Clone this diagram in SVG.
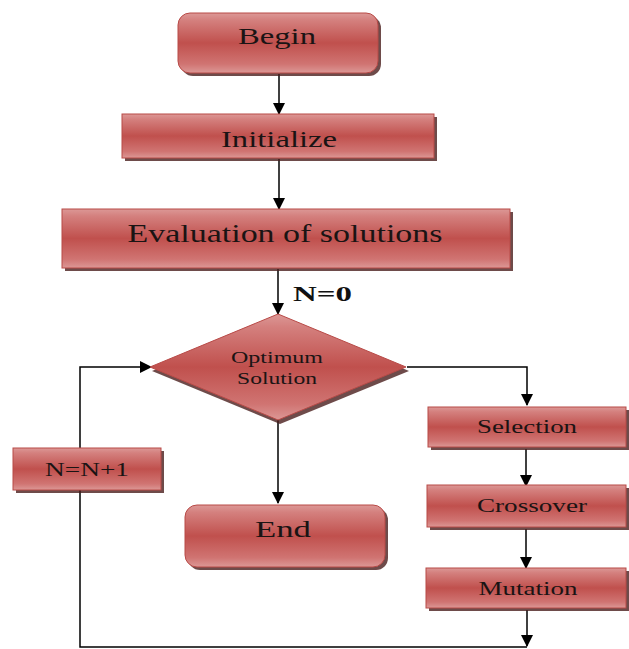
<svg xmlns="http://www.w3.org/2000/svg" width="629" height="649" viewBox="0 0 629 649">
<defs>
<linearGradient id="g" x1="0" y1="0" x2="0" y2="1">
<stop offset="0" stop-color="#dc9896"/>
<stop offset="0.12" stop-color="#d4807e"/>
<stop offset="0.5" stop-color="#c0504d"/>
<stop offset="0.85" stop-color="#d07472"/>
<stop offset="1" stop-color="#dc9896"/>
</linearGradient>
<marker id="ah" markerUnits="userSpaceOnUse" markerWidth="12" markerHeight="12" refX="11" refY="6" orient="auto" viewBox="0 0 12 12">
<path d="M0,0 L12,6 L0,12 z" fill="#000"/>
</marker>
<style>
.box{fill:url(#g);stroke:#b84a47;stroke-width:1}
.sh{fill:#4a1e1d;opacity:0.8}
.t{fill:#1a1414;text-anchor:middle}
.c{fill:none;stroke:#000;stroke-width:1.5}
</style>
</defs>

<g id="connectors">
<path class="c" d="M279,74 L279,114" marker-end="url(#ah)"/>
<path class="c" d="M279,159 L279,209" marker-end="url(#ah)"/>
<path class="c" d="M278,269 L278,314" marker-end="url(#ah)"/>
<path class="c" d="M278,420 L278,503" marker-end="url(#ah)"/>
<path class="c" d="M407,367 L527,367 L527,405" marker-end="url(#ah)"/>
<path class="c" d="M526,449 L526,486" marker-end="url(#ah)"/>
<path class="c" d="M526,529 L526,568" marker-end="url(#ah)"/>
<path class="c" d="M527,610 L527,646" marker-end="url(#ah)"/>
<path class="c" d="M527,647 L80,647 L80,367 L151,367" marker-end="url(#ah)"/>
<text x="293" y="301" font-family="'Liberation Serif', 'Times New Roman', serif" font-weight="bold" font-size="22" textLength="59" lengthAdjust="spacingAndGlyphs" fill="#111">N=0</text>
</g>

<g font-family="'Liberation Serif', 'Times New Roman', serif">
<g id="begin">
<rect class="sh" x="181" y="16" width="200" height="60" rx="12"/>
<rect class="box" x="178" y="13" width="200" height="60" rx="12"/>
<text class="t" x="277" y="44" font-size="24" textLength="78" lengthAdjust="spacingAndGlyphs">Begin</text>
</g>

<g id="initialize">
<rect class="sh" x="125" y="117" width="312" height="44"/>
<rect class="box" x="122" y="114" width="312" height="44"/>
<text class="t" x="279" y="147" font-size="24" textLength="116" lengthAdjust="spacingAndGlyphs">Initialize</text>
</g>

<g id="evaluation">
<rect class="sh" x="65" y="212" width="448" height="59"/>
<rect class="box" x="62" y="209" width="448" height="59"/>
<text class="t" x="285" y="242" font-size="25" textLength="315" lengthAdjust="spacingAndGlyphs">Evaluation of solutions</text>
</g>

<g id="optimum">
<polygon class="sh" points="280,317 409,371 280,424 152,371"/>
<polygon class="box" points="278,314 406,367 278,420 150,367"/>
<text class="t" x="277" y="363" font-size="17" textLength="92" lengthAdjust="spacingAndGlyphs">Optimum</text>
<text class="t" x="277" y="384" font-size="17" textLength="80" lengthAdjust="spacingAndGlyphs">Solution</text>
</g>

<g id="end">
<rect class="sh" x="188" y="508" width="200" height="62" rx="12"/>
<rect class="box" x="185" y="505" width="200" height="62" rx="12"/>
<text class="t" x="283" y="537" font-size="24" textLength="56" lengthAdjust="spacingAndGlyphs">End</text>
</g>

<g id="selection">
<rect class="sh" x="431" y="410" width="198" height="40"/>
<rect class="box" x="428" y="407" width="198" height="40"/>
<text class="t" x="527" y="433" font-size="19" textLength="100" lengthAdjust="spacingAndGlyphs">Selection</text>
</g>

<g id="crossover">
<rect class="sh" x="430" y="488" width="199" height="42"/>
<rect class="box" x="427" y="485" width="199" height="42"/>
<text class="t" x="532" y="512" font-size="19" textLength="110" lengthAdjust="spacingAndGlyphs">Crossover</text>
</g>

<g id="mutation">
<rect class="sh" x="429" y="571" width="200" height="40"/>
<rect class="box" x="426" y="568" width="200" height="40"/>
<text class="t" x="528" y="595" font-size="19" textLength="99" lengthAdjust="spacingAndGlyphs">Mutation</text>
</g>

<g id="increment">
<rect class="sh" x="16" y="451" width="148" height="42"/>
<rect class="box" x="13" y="448" width="148" height="42"/>
<text class="t" x="87" y="476" font-size="19" textLength="84" lengthAdjust="spacingAndGlyphs">N=N+1</text>
</g>
</g>
</svg>
